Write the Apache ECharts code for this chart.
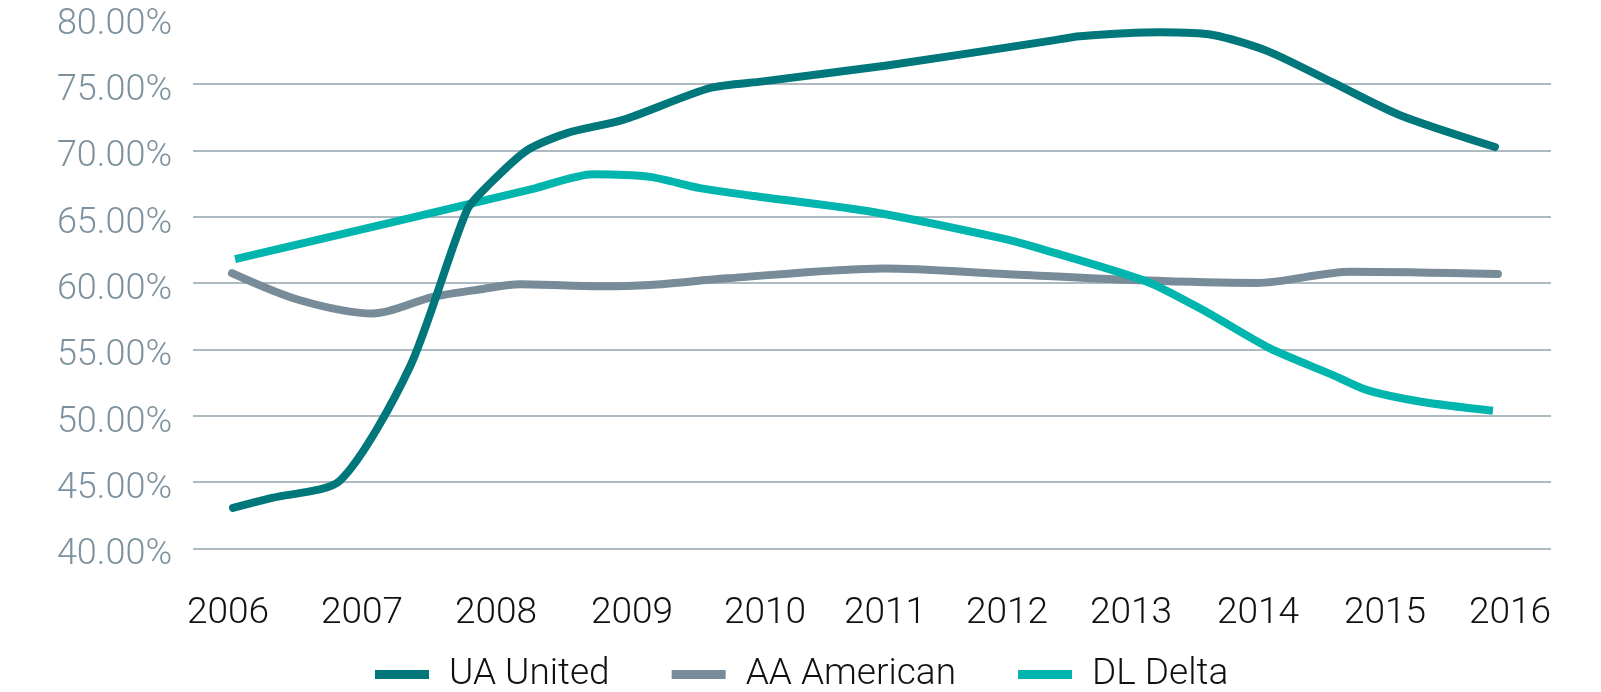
<!DOCTYPE html>
<html>
<head>
<meta charset="utf-8">
<script src="https://cdn.jsdelivr.net/npm/echarts@6/dist/echarts.min.js"></script>
<style>
html,body{margin:0;padding:0;background:#fff;}
#c{width:1601px;height:692px;}
</style>
</head>
<body>
<div id="c"></div>
<script>
// Tick labels and where they sit on the (year) x scale
var yearLabels = ['2006','2007','2008','2009','2010','2011','2012','2013','2014','2015','2016'];
var yearLabelAt = [2006.0, 2007.045, 2008.09, 2009.151, 2010.189, 2011.125, 2012.077, 2013.044, 2014.034, 2015.025, 2016.0];

var seriesNames = ['UA United', 'AA American', 'DL Delta'];

// UA United: [year position, share %]
var uaX = [2006.039, 2006.343, 2006.874, 2007.420, 2007.864, 2008.044, 2008.332, 2008.644, 2009.081, 2009.760, 2010.173, 2011.140, 2012.412, 2012.646, 2013.270, 2013.683, 2014.105, 2014.620, 2015.142, 2015.883];
var uaY = [43.05, 43.8, 45.1, 53.7, 65.5, 67.5, 70.0, 71.3, 72.3, 74.7, 75.2, 76.4, 78.25, 78.6, 78.9, 78.7, 77.5, 75.1, 72.65, 70.25];

// AA American
var aaX = [2006.031, 2006.562, 2007.131, 2007.599, 2007.989, 2008.278, 2008.902, 2009.292, 2009.892, 2011.125, 2012.022, 2013.114, 2014.019, 2014.760, 2015.906];
var aaY = [60.75, 58.7, 57.7, 58.95, 59.55, 59.9, 59.75, 59.85, 60.35, 61.1, 60.7, 60.2, 60.0, 60.85, 60.68];

// DL Delta
var dlX = [2006.055, 2007.443, 2008.379, 2008.847, 2009.292, 2009.682, 2010.072, 2011.031, 2012.022, 2012.295, 2013.168, 2013.605, 2014.128, 2014.619, 2014.892, 2015.306, 2015.867];
var dlY = [61.8, 64.95, 67.1, 68.2, 68.0, 67.15, 66.6, 65.35, 63.4, 62.7, 60.1, 57.96, 55.07, 53.06, 51.9, 51.05, 50.37];

var colors = ['#00777a', '#778b98', '#00b5ad'];

function pairs(xs, ys) { return xs.map(function (x, i) { return [x, ys[i]]; }); }

var chart = echarts.init(document.getElementById('c'), null, {renderer: 'canvas'});
var font = 'Roboto, "DejaVu Sans", sans-serif';

chart.setOption({
  animation: false,
  backgroundColor: '#ffffff',
  grid: {left: 193, right: 50, top: 17.7, bottom: 143.7, containLabel: false, outerBoundsMode: 'none'},
  xAxis: {
    type: 'value',
    min: 2005.727,
    max: 2016.32,
    axisLine: {show: false},
    axisTick: {show: false},
    splitLine: {show: false},
    axisLabel: {
      customValues: yearLabelAt,
      formatter: function (v) {
        var best = 0, d = 1e9;
        for (var i = 0; i < yearLabelAt.length; i++) {
          var dd = Math.abs(yearLabelAt[i] - v);
          if (dd < d) { d = dd; best = i; }
        }
        return yearLabels[best];
      },
      color: '#111111',
      fontFamily: font,
      fontWeight: 300,
      fontSize: 37,
      margin: 47
    }
  },
  yAxis: {
    type: 'value',
    min: 40,
    max: 80,
    interval: 5,
    axisLine: {show: false},
    axisTick: {show: false},
    splitLine: {show: true, showMaxLine: false, lineStyle: {color: '#93a3ae', width: 1.5}},
    axisLabel: {
      formatter: function (v) { return '{p|' + v.toFixed(2) + '%}'; },
      margin: 21,
      rich: {
        p: {
          color: '#7d929e',
          fontFamily: font,
          fontWeight: 300,
          fontSize: 36,
          padding: [14, 0, 0, 0]
        }
      }
    }
  },
  legend: {
    left: 375,
    top: 656,
    padding: 0,
    icon: 'rect',
    itemWidth: 54,
    itemHeight: 9,
    itemGap: 62,
    textStyle: {color: '#111111', fontFamily: font, fontWeight: 300, fontSize: 37, padding: [0, 0, 0, 15]},
    data: seriesNames
  },
  series: [
    {name: seriesNames[0], type: 'line', data: pairs(uaX, uaY), smooth: 0.25, showSymbol: false,
     lineStyle: {color: colors[0], width: 8, cap: 'round', join: 'round'}, itemStyle: {color: colors[0]}, z: 4},
    {name: seriesNames[1], type: 'line', data: pairs(aaX, aaY), smooth: 0.3, showSymbol: false,
     lineStyle: {color: colors[1], width: 8, cap: 'round', join: 'round'}, itemStyle: {color: colors[1]}, z: 2},
    {name: seriesNames[2], type: 'line', data: pairs(dlX, dlY), smooth: 0.25, showSymbol: false,
     lineStyle: {color: colors[2], width: 8, cap: 'butt', join: 'round'}, itemStyle: {color: colors[2]}, z: 3}
  ]
});
</script>
</body>
</html>
